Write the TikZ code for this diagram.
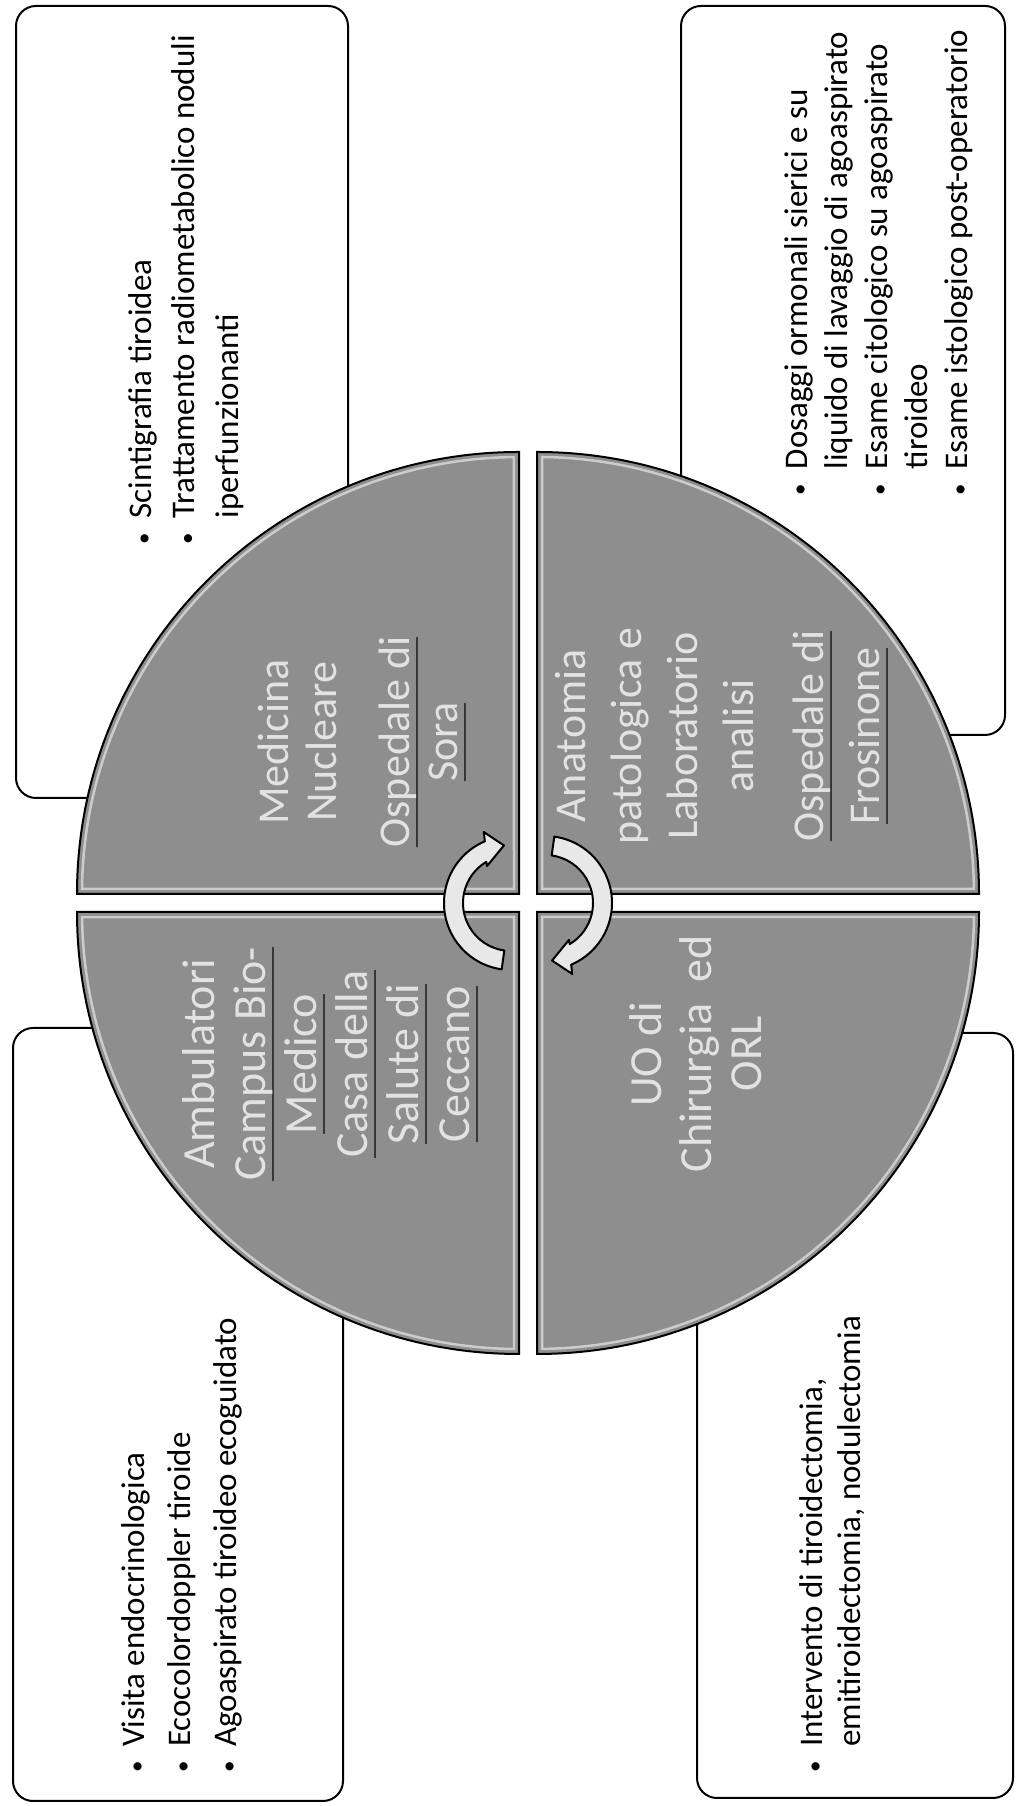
\documentclass[tikz,border=0pt]{standalone}
\usepackage{fontspec}
\usepackage{graphicx}
\setmainfont{Carlito}
\definecolor{qgray}{RGB}{142,142,142}
\definecolor{qtxt}{RGB}{226,226,226}
\definecolor{ulc}{RGB}{55,55,55}
\definecolor{arrowfill}{RGB}{232,232,232}
\newsavebox\ulbox
\newcommand\ulx[1]{\sbox\ulbox{#1}\rlap{\color{ulc}\rule[-9pt]{\wd\ulbox}{2.5pt}}\usebox\ulbox}
\newcommand\bul{\makebox[28pt][c]{\scalebox{0.7}{\textbullet}}}
\begin{document}
\begin{tikzpicture}[x=1pt,y=1pt,
  infobox/.style={draw=black, line width=2pt, rounded corners=20pt, fill=white},
  quad/.style={fill=qgray, draw=black, line width=2pt},
  bevel/.style={draw=white, opacity=0.55, line width=2.5pt},
  cyc/.style={fill=arrowfill, draw=black, line width=2pt, line join=round},
  qtext/.style={rotate=90, align=center, text=qtxt, inner sep=0pt},
  btext/.style={rotate=90, anchor=base west, inner sep=0pt, text=black}]
\useasboundingbox (0,0) rectangle (1018,1806);
\fill[white] (0,0) rectangle (1018,1806);
% outer boxes
\draw[infobox] (16,1008) rectangle (348,1800);
\draw[infobox] (681,1071) rectangle (1005,1800);
\draw[infobox] (13,5) rectangle (343,778);
\draw[infobox] (697,8) rectangle (1013,773);
% quadrants
\draw[quad] (519,912) -- (77,912) arc[start angle=180,end angle=90,radius=442] -- cycle;
\draw[quad] (537,912) -- (537,1354) arc[start angle=90,end angle=0,radius=442] -- cycle;
\draw[quad] (519,894) -- (519,452) arc[start angle=270,end angle=180,radius=442] -- cycle;
\draw[quad] (537,894) -- (979,894) arc[start angle=0,end angle=-90,radius=442] -- cycle;
% bevels
\draw[bevel] (514,917) -- (82,917) arc[start angle=179.34,end angle=90.66,radius=437] -- cycle;
\draw[bevel] (542,917) -- (542,1349) arc[start angle=89.34,end angle=0.66,radius=437] -- cycle;
\draw[bevel] (514,889) -- (514,457) arc[start angle=269.34,end angle=180.66,radius=437] -- cycle;
\draw[bevel] (542,889) -- (974,889) arc[start angle=-0.66,end angle=-89.34,radius=437] -- cycle;
% circular arrows
\begin{scope}[shift={(511,903)}]
\draw[cyc] (262:67) arc[start angle=262,end angle=113,radius=67] -- (111:76) -- (97:58) -- (123:44) -- (121:48) arc[start angle=121,end angle=262,radius=48] -- cycle;
\end{scope}
\begin{scope}[shift={(545,903)}]
\draw[cyc] (82:67) arc[start angle=82,end angle=-67,radius=67] -- (-69:76) -- (-83:58) -- (-57:44) -- (-59:48) arc[start angle=-59,end angle=82,radius=48] -- cycle;
\end{scope}
% quadrant texts
\node[qtext, font=\fontsize{44}{48}\selectfont] (tl) at (362,1064) {Medicina\\Nucleare\\[25pt]\ulx{Ospedale di}\\\ulx{Sora}};
\node[qtext, font=\fontsize{44}{56}\selectfont] (tr) at (721.5,1070) {Anatomia\\patologica e\\Laboratorio\\analisi\\[14pt]\ulx{Ospedale di}\\\ulx{Frosinone}};
\node[qtext, font=\fontsize{46}{51}\selectfont] (bl) at (330.5,742) {Ambulatori\\\ulx{Campus Bio-}\\\ulx{Medico}\\\ulx{Casa della}\\\ulx{Salute di}\\\ulx{Ceccano}};
\node[qtext, font=\fontsize{46}{50}\selectfont] (br) at (696,752) {UO di\\Chirurgia\ \ ed\\ORL};
% box texts
\node[btext, font=\fontsize{33}{43.5}\selectfont] (tlb) at (151,1253.5) {\begin{tabular}[t]{@{}l@{\hspace{6pt}}l@{}}\bul & Scintigrafia tiroidea\\ \bul & Trattamento radiometabolico noduli\\ & iperfunzionanti\end{tabular}};
\node[btext, font=\fontsize{33}{40}\selectfont] (trb) at (807,1302.5) {\begin{tabular}[t]{@{}l@{\hspace{6pt}}l@{}}\bul & Dosaggi ormonali sierici e su\\ & liquido di lavaggio di agoaspirato\\ \bul & Esame citologico su agoaspirato\\ & tiroideo\\ \bul & Esame istologico post-operatorio\end{tabular}};
\node[btext, font=\fontsize{33}{46}\selectfont] (blb) at (144,25) {\begin{tabular}[t]{@{}l@{\hspace{6pt}}l@{}}\bul & Visita endocrinologica\\ \bul & Ecocolordoppler tiroide\\ \bul & Agoaspirato tiroideo ecoguidato\end{tabular}};
\node[btext, font=\fontsize{33}{38}\selectfont] (brb) at (822,25) {\begin{tabular}[t]{@{}l@{\hspace{6pt}}l@{}}\bul & Intervento di tiroidectomia,\\ & emitiroidectomia, nodulectomia\end{tabular}};
\end{tikzpicture}
\end{document}
